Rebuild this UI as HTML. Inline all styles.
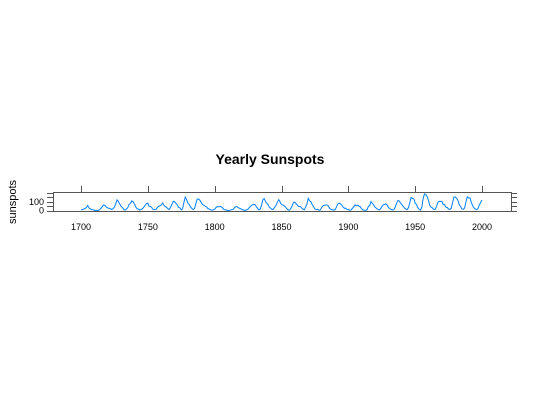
<!DOCTYPE html>
<html><head><meta charset="utf-8"><style>
html,body{margin:0;padding:0;background:#fff;}
svg{display:block;font-family:"Liberation Sans",sans-serif;}
</style></head><body>
<svg id="chart" width="540" height="400" viewBox="0 0 540 400">
<text x="270" y="164" text-anchor="middle" font-size="14" font-weight="bold">Yearly Sunspots</text>
<text transform="translate(16,202) rotate(-90)" text-anchor="middle" font-size="11">sunspots</text>
<g id="axes"></g>
<rect x="53.5" y="192.5" width="458" height="19" fill="none" stroke="#555" stroke-width="1"/>
</svg>
<script>
const startYear = 1700;
const sunspots = [5,11,16,23,36,58,29,20,10,8,
3,0,0,2,11,27,47,63,60,39,
28,26,22,11,21,40,78,122,103,73,
47,35,11,5,16,34,70,81,111,101,
73,40,20,16,5,11,22,40,60,80.9,
83.4,47.7,47.8,30.7,12.2,9.6,10.2,32.4,47.6,54,
62.9,85.9,61.2,45.1,36.4,20.9,11.4,37.8,69.8,106.1,
100.8,81.6,66.5,34.8,30.6,7,19.8,92.5,154.4,125.9,
84.8,68.1,38.5,22.8,10.2,24.1,82.9,132,130.9,118.1,
89.9,66.6,60,46.9,41,21.3,16,6.4,4.1,6.8,
14.5,34,45,43.1,47.5,42.2,28.1,10.1,8.1,2.5,
0,1.4,5,12.2,13.9,35.4,45.8,41.1,30.1,23.9,
15.6,6.6,4,1.8,8.5,16.6,36.3,49.6,64.2,67,
70.9,47.8,27.5,8.5,13.2,56.9,121.5,138.3,103.2,85.7,
64.6,36.7,24.2,10.7,15,40.1,61.5,98.5,124.7,96.3,
66.6,64.5,54.1,39,20.6,6.7,4.3,22.7,54.8,93.8,
95.8,77.2,59.1,44,47,30.5,16.3,7.3,37.6,74,
139,111.2,101.6,66.2,44.7,17,11.3,12.4,3.4,6,
32.3,54.3,59.7,63.7,63.5,52.2,25.4,13.1,6.8,6.3,
7.1,35.6,73,85.1,78,64,41.8,26.2,26.7,12.1,
9.5,2.7,5,24.4,42,63.5,53.8,62,48.5,43.9,
18.6,5.7,3.6,1.4,9.6,47.4,57.1,103.9,80.6,63.6,
37.6,26.1,14.2,5.8,16.7,44.3,63.9,69,77.8,64.9,
35.7,21.2,11.1,5.7,8.7,36.1,79.7,114.4,109.6,88.8,
67.8,47.5,30.6,16.3,9.6,33.2,92.6,151.6,136.3,134.7,
83.9,69.4,31.5,13.9,4.4,38,141.7,190.2,184.8,159,
112.3,53.9,37.5,27.9,10.2,15.1,47,93.8,105.9,105.5,
104.5,66.6,68.9,38,34.5,15.5,12.6,27.5,92.5,155.4,
154.6,140.4,115.9,66.6,45.9,17.9,13.4,29.2,100.2,157.6,
142.6,145.7,94.3,54.6,29.9,17.5,8.6,21.5,64.3,93.3,
119.6];
const xTicks = [1700,1750,1800,1850,1900,1950,2000];
const yTicks = [0,50,100,150,200];
const yTickLabels = [0,100];

const svg = document.getElementById('chart');
const axes = document.getElementById('axes');
const NS = 'http://www.w3.org/2000/svg';
function xs(yr){ return 81 + (yr - 1700) * (401 / 300); }
function ys(v){ return 210.5 - v * 0.087; }
function mk(tag, attrs){ const e = document.createElementNS(NS, tag); for (const k in attrs) e.setAttribute(k, attrs[k]); return e; }

xTicks.forEach(t => {
  const x = Math.round(xs(t)) + 0.5;
  const tk = mk('line', {x1:x, x2:x, y1:186, y2:192, stroke:'#555'});
  
  
  axes.appendChild(tk);
  const lb = mk('text', {x:xs(t), y:230, 'text-anchor':'middle', 'font-size':'9'});
  lb.textContent = t;
  
  
  axes.appendChild(lb);
});
yTicks.forEach(t => {
  const y = Math.round(ys(t)) + 0.5;
  const tl = mk('line', {x1:47, x2:53, y1:y, y2:y, stroke:'#555'});
  
  
  axes.appendChild(tl);
  const tr = mk('line', {x1:511, x2:517, y1:y, y2:y, stroke:'#555'});
  
  
  axes.appendChild(tr);
});
yTickLabels.forEach(t => {
  const lb = mk('text', {x:44, y:ys(t) + 3, 'text-anchor':'end', 'font-size':'9'});
  lb.textContent = t;
  
  
  axes.appendChild(lb);
});
const pts = sunspots.map((v, i) => xs(startYear + i).toFixed(2) + ',' + ys(v).toFixed(2)).join(' ');
const line = mk('polyline', {points:pts, fill:'none', stroke:'#0080ff', 'stroke-width':'1'});


svg.appendChild(line);
</script>
</body></html>
